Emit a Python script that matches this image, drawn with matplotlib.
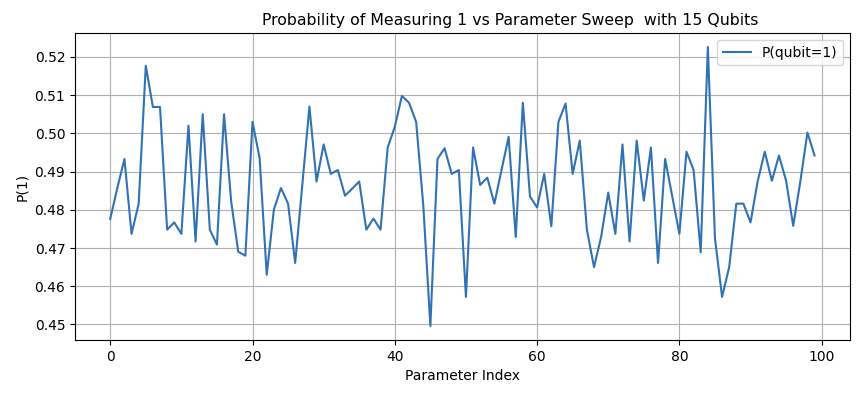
import matplotlib
matplotlib.use("Agg")
import matplotlib.pyplot as plt

# P(1), index 0..99
p_one = [
    0.4776, 0.4857, 0.4933, 0.4737, 0.4816, 0.5177, 0.5069, 0.5069, 0.4748, 0.4767,
    0.4737, 0.5020, 0.4717, 0.5050, 0.4748, 0.4709, 0.5050, 0.4822, 0.4690, 0.4680,
    0.5030, 0.4935, 0.4630, 0.4800, 0.4857, 0.4816, 0.4661, 0.4865, 0.5070, 0.4874,
    0.4971, 0.4894, 0.4904, 0.4837, 0.4855, 0.4874, 0.4748, 0.4777, 0.4748, 0.4963,
    0.5017, 0.5098, 0.5080, 0.5030, 0.4813, 0.4496, 0.4933, 0.4961, 0.4894, 0.4904,
    0.4572, 0.4963, 0.4865, 0.4884, 0.4816, 0.4904, 0.4991, 0.4729, 0.5080, 0.4835,
    0.4806, 0.4894, 0.4757, 0.5030, 0.5078, 0.4894, 0.4981, 0.4748, 0.4650, 0.4729,
    0.4845, 0.4737, 0.4971, 0.4717, 0.4981, 0.4824, 0.4963, 0.4661, 0.4933, 0.4835,
    0.4737, 0.4952, 0.4904, 0.4689, 0.5226, 0.4726, 0.4572, 0.4650, 0.4816, 0.4816,
    0.4767, 0.4874, 0.4952, 0.4876, 0.4942, 0.4876, 0.4758, 0.4874, 0.5002, 0.4942,
]
idx = list(range(len(p_one)))

fig = plt.figure(figsize=(8.68, 3.93), dpi=100)
ax = fig.add_axes([0.0864, 0.135, 0.8926, 0.781])
ax.plot(idx, p_one, color='#3072b3', linewidth=1.5, label='P(qubit=1)')
ax.set_title('Probability of Measuring 1 vs Parameter Sweep  with 15 Qubits',
             fontsize=11.3, x=0.562)
ax.set_xlabel('Parameter Index')
ax.set_ylabel('P(1)')
ax.grid(True)
ax.legend(loc='upper right')
fig.savefig('out.png', dpi=100)
